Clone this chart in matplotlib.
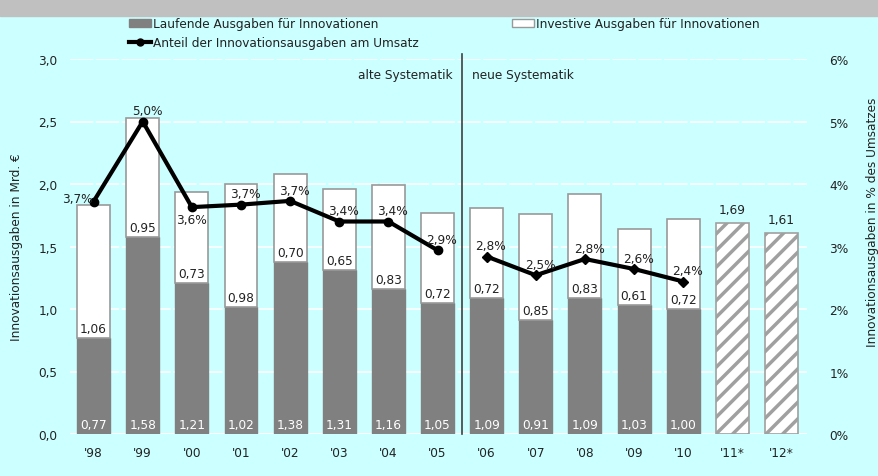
import numpy as np
import matplotlib
matplotlib.use("Agg")
import matplotlib.pyplot as plt
from matplotlib.patches import Patch
from matplotlib.lines import Line2D

years = ["'98", "'99", "'00", "'01", "'02", "'03", "'04", "'05", "'06", "'07", "'08", "'09", "'10"]
forecast_years = ["'11*", "'12*"]
laufend = [0.77, 1.58, 1.21, 1.02, 1.38, 1.31, 1.16, 1.05, 1.09, 0.91, 1.09, 1.03, 1.00]
investiv = [1.06, 0.95, 0.73, 0.98, 0.70, 0.65, 0.83, 0.72, 0.72, 0.85, 0.83, 0.61, 0.72]
forecast = [1.69, 1.61]
anteil_alt = [3.72, 5.0, 3.63, 3.67, 3.73, 3.4, 3.4, 2.94]
anteil_neu = [2.84, 2.54, 2.8, 2.64, 2.44]

bg = '#ccffff'
fs = 8.7
tc = '#222222'
plt.rcParams['font.family'] = 'DejaVu Sans'
plt.rcParams['hatch.linewidth'] = 2.5

fig = plt.figure(figsize=(8.79, 4.77), dpi=100, facecolor=bg)
# grey band at the top
fig.patches.append(plt.Rectangle((0, 1 - 17 / 477), 1, 17 / 477, transform=fig.transFigure,
                                 color='#c0c0c0', zorder=0))

ax = fig.add_axes([70 / 879, 1 - 435 / 477, 737 / 879, 375 / 477])
ax.set_facecolor(bg)
ax2 = ax.twinx()

x = np.arange(len(years))
xf = np.arange(len(years), len(years) + len(forecast))
w = 0.67

ax.bar(x, laufend, w, color='#808080', edgecolor='#808080', zorder=3)
ax.bar(x, investiv, w, bottom=laufend, color='white', edgecolor='#999999', linewidth=1.2, zorder=3)
ax.bar(xf, forecast, w, color='white', edgecolor='#a0a0a0', hatch='//', linewidth=1.2, zorder=3)

for i in range(len(years)):
    ax.annotate(f"{laufend[i]:.2f}".replace('.', ','), (x[i], 0), xytext=(0, 2),
                textcoords='offset points', ha='center', va='bottom', color='white',
                fontsize=fs, zorder=5)
    ax.annotate(f"{investiv[i]:.2f}".replace('.', ','), (x[i], laufend[i]), xytext=(0, 2),
                textcoords='offset points', ha='center', va='bottom', color=tc,
                fontsize=fs, zorder=5)
for i in range(len(forecast)):
    ax.annotate(f"{forecast[i]:.2f}".replace('.', ','), (xf[i], forecast[i]), xytext=(0, 5),
                textcoords='offset points', ha='center', va='bottom', color=tc, fontsize=fs)

ax.set_ylim(0, 3.0)
ax.set_xlim(-0.48, 14.52)
ax.set_yticks(np.arange(0, 3.01, 0.5))
ax.set_yticklabels([f"{v:.1f}".replace('.', ',') for v in np.arange(0, 3.01, 0.5)])
ax.set_xticks(list(x) + list(xf))
ax.set_xticklabels(years + forecast_years)
ax.tick_params(length=0, labelsize=fs, colors=tc, pad=9)
ax.grid(axis='y', color='white', linestyle=(0, (14, 1.5)), linewidth=1.2, zorder=0)
ax.axhline(0, color='white', linewidth=1.5, zorder=2)
for s in ax.spines.values():
    s.set_visible(False)
ax.set_ylabel('Innovationsausgaben in Mrd. €', fontsize=fs, color=tc, labelpad=11)

# separator old / new methodology
ax.plot([7.5, 7.5], [0, 3.04], color='#404040', linewidth=1.2, clip_on=False, zorder=4)
ax.text(7.3, 2.88, 'alte Systematik', ha='right', va='center', fontsize=fs, color=tc)
ax.text(7.7, 2.88, 'neue Systematik', ha='left', va='center', fontsize=fs, color=tc)

# share of turnover line
xa = np.arange(len(anteil_alt))
xn = np.arange(len(anteil_alt), len(anteil_alt) + len(anteil_neu))
ax2.plot(xa, anteil_alt, color='black', linewidth=3, marker='o', markersize=6, zorder=6)
ax2.plot(xn, anteil_neu, color='black', linewidth=3, marker='D', markersize=5, zorder=6)
ax2.set_ylim(0, 6)
ax2.set_yticks(range(0, 7))
ax2.set_yticklabels([f"{v}%" for v in range(0, 7)])
ax2.tick_params(length=0, labelsize=fs, colors=tc, pad=16)
for s in ax2.spines.values():
    s.set_visible(False)
fig.text(873 / 879, 1 - 222 / 477, 'Innovationsausgaben in % des Umsatzes', rotation=90,
         ha='center', va='center', fontsize=fs, color=tc)

allx = list(xa) + list(xn)
ally = anteil_alt + anteil_neu
for i, (xx, yy) in enumerate(zip(allx, ally)):
    lab = f"{yy:.1f}%".replace('.', ',')
    if i == 0:
        ax2.annotate(lab, (xx, yy), xytext=(-1, 2), textcoords='offset points', ha='right',
                     va='center', fontsize=fs, color=tc, zorder=7)
    elif i == 2:
        ax2.annotate(lab, (xx, yy), xytext=(0, -4), textcoords='offset points', ha='center',
                     va='top', fontsize=fs, color=tc, zorder=7)
    else:
        ax2.annotate(lab, (xx, yy), xytext=(3, 3), textcoords='offset points', ha='center',
                     va='bottom', fontsize=fs, color=tc, zorder=7)

handles = [Patch(facecolor='#808080', edgecolor='#808080'),
           Line2D([], [], color='black', linewidth=3, marker='o', markersize=5),
           Patch(facecolor='white', edgecolor='#999999')]
labels = ['Laufende Ausgaben für Innovationen', 'Anteil der Innovationsausgaben am Umsatz',
          'Investive Ausgaben für Innovationen']
leg = fig.legend(handles, labels, ncol=2, loc='upper left',
                 bbox_to_anchor=(123 / 879, 1 - 12 / 477),
                 frameon=False, fontsize=fs, handlelength=1.8, handletextpad=0.2,
                 columnspacing=7.7, labelspacing=0.5, borderpad=0, labelcolor=tc)

fig.savefig('out.png', dpi=100, facecolor=bg)
